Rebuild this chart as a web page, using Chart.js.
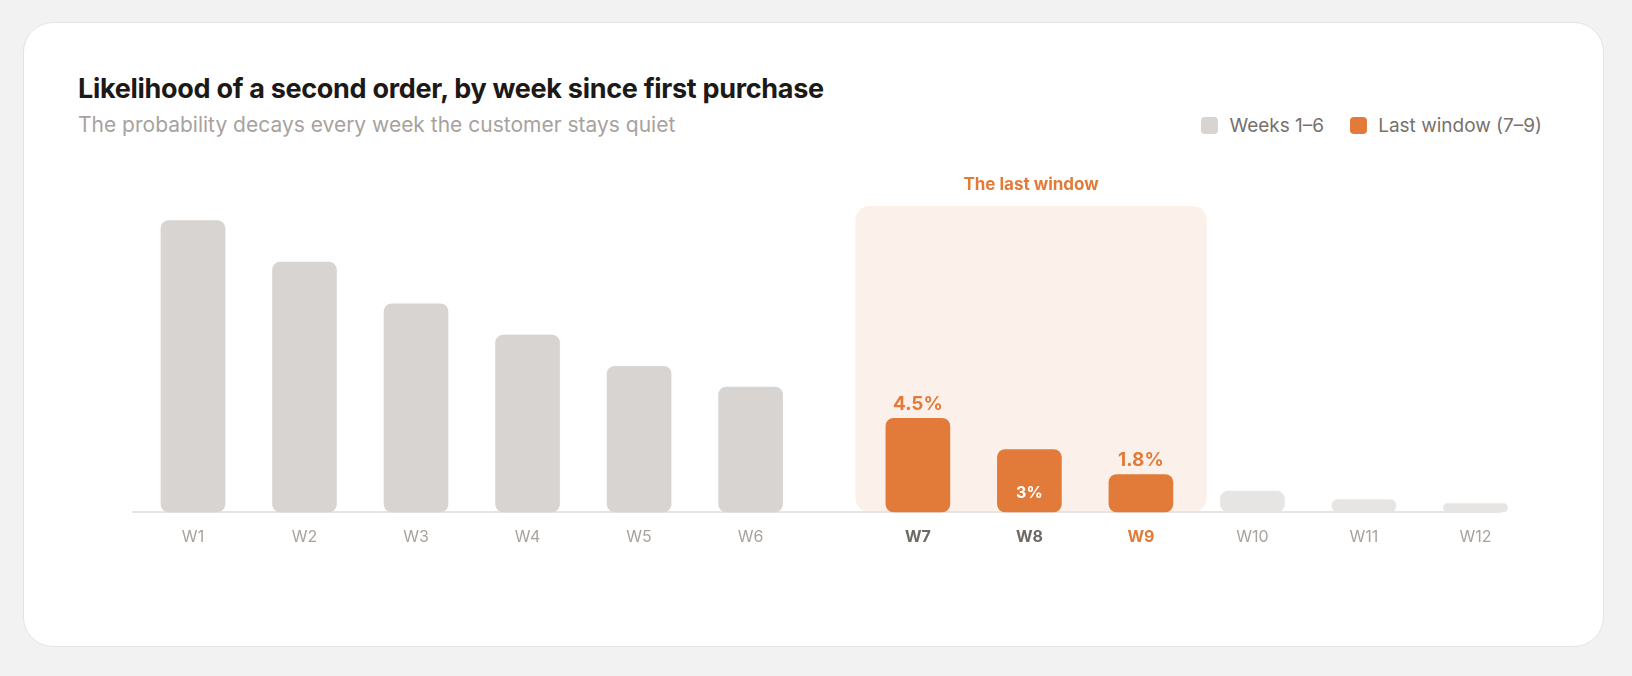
<!DOCTYPE html>
<html>
<head>
<meta charset="utf-8">
<script src="https://cdn.jsdelivr.net/npm/chart.js@4.4.1/dist/chart.umd.min.js"></script>
<style>
  html, body { margin: 0; padding: 0; background: #f2f2f2; width: 1632px; height: 676px; overflow: hidden; }
  body { font-family: Inter, "Noto Sans", sans-serif; }
  .card {
    position: absolute; left: 23px; top: 22px; width: 1579px; height: 623px;
    background: #fff; border: 1px solid #e4e4e4; border-radius: 30px;
  }
  .title {
    position: absolute; left: 54px; top: 52px; margin: 0;
    font-size: 27px; line-height: 27px; font-weight: 700; color: #1c1917; letter-spacing: -0.3px;
  }
  .subtitle {
    position: absolute; left: 54px; top: 91px; margin: 0;
    font-size: 21px; line-height: 21px; font-weight: 400; color: #a8a29e;
  }
  .legend {
    position: absolute; right: 61px; top: 93px; display: flex; align-items: center; gap: 26px;
    font-size: 19px; line-height: 19px; color: #78716c;
  }
  .legend span.item { display: flex; align-items: center; gap: 11px; }
  .legend i { display: inline-block; width: 17px; height: 17px; border-radius: 4px; }
  .chart-box { position: absolute; left: 0; top: 139px; width: 1579px; height: 440px; }
</style>
</head>
<body>
<div class="card">
  <h1 class="title">Likelihood of a second order, by week since first purchase</h1>
  <p class="subtitle">The probability decays every week the customer stays quiet</p>
  <div class="legend" id="legend"></div>
  <div class="chart-box"><canvas id="chart"></canvas></div>
</div>
<script>
// data
const weeks = ["W1", "W2", "W3", "W4", "W5", "W6", "W7", "W8", "W9", "W10", "W11", "W12"];
const likelihood = [14, 12, 10, 8.5, 7, 6, 4.5, 3, 1.8, 1, 0.6, 0.4];
const seriesNames = ["Weeks 1–6", "Last window (7–9)"];
const windowWeeks = ["W7", "W8", "W9"];
const lateWeeks = ["W10", "W11", "W12"];
const windowTitle = "The last window";

const GRAY = "#d7d4d1";
const LIGHT = "#e7e5e3";
const ORANGE = "#e27b3a";
const TINT = "#fbf1ea";
const FONT = "Inter, 'Noto Sans', sans-serif";

// half a slot of extra space before the last window
const xPos = weeks.map((w, i) => (i >= 6 ? i + 1.5 : i + 1));
const pts = (list) =>
  weeks.map((w, i) => ({ w, x: xPos[i], y: likelihood[i] })).filter((p) => list(p.w));

const isWindow = (w) => windowWeeks.includes(w);
const isLate = (w) => lateWeeks.includes(w);

const legendEl = document.getElementById("legend");
[[seriesNames[0], GRAY], [seriesNames[1], ORANGE]].forEach(([name, color]) => {
  const s = document.createElement("span");
  s.className = "item";
  s.innerHTML = `<i style="background:${color}"></i>${name}`;
  legendEl.appendChild(s);
});

const barStyle = {
  barThickness: 64,
  borderRadius: 8,
  borderSkipped: false,
  grouped: false,
  clip: false,
};

const windowPlugin = {
  id: "lastWindow",
  beforeDraw(chart) {
    const { ctx, chartArea, scales } = chart;
    const first = xPos[weeks.indexOf(windowWeeks[0])];
    const last = xPos[weeks.indexOf(windowWeeks[windowWeeks.length - 1])];
    const x1 = scales.x.getPixelForValue(first - 0.56);
    const x2 = scales.x.getPixelForValue(last + 0.59);
    const top = chartArea.top;
    const bottom = chartArea.bottom;
    ctx.save();
    ctx.fillStyle = TINT;
    ctx.beginPath();
    ctx.roundRect(x1, top, x2 - x1, bottom - top, 14);
    ctx.fill();
    ctx.fillStyle = ORANGE;
    ctx.font = `700 17px ${FONT}`;
    ctx.textAlign = "center";
    ctx.textBaseline = "middle";
    ctx.fillText(windowTitle, (x1 + x2) / 2, top - 21);
    ctx.restore();
  },
  afterDatasetsDraw(chart) {
    const { ctx } = chart;
    const meta = chart.getDatasetMeta(1);
    const data = chart.data.datasets[1].data;
    ctx.save();
    ctx.textAlign = "center";
    meta.data.forEach((bar, i) => {
      const text = `${data[i].y}%`;
      if (data[i].w === "W8") {
        ctx.fillStyle = "#ffffff";
        ctx.font = `700 16px ${FONT}`;
        ctx.textBaseline = "middle";
        ctx.fillText(text, bar.x, bar.base - 19);
      } else {
        ctx.fillStyle = ORANGE;
        ctx.font = `700 19px ${FONT}`;
        ctx.textBaseline = "bottom";
        ctx.fillText(text, bar.x, bar.y - 5);
      }
    });
    ctx.restore();
  },
};

new Chart(document.getElementById("chart"), {
  type: "bar",
  data: {
    datasets: [
      { label: seriesNames[0], data: pts((w) => !isWindow(w) && !isLate(w)), backgroundColor: GRAY, ...barStyle },
      { label: seriesNames[1], data: pts(isWindow), backgroundColor: ORANGE, ...barStyle },
      { label: "Later weeks", data: pts(isLate), backgroundColor: LIGHT, ...barStyle },
    ],
  },
  options: {
    responsive: true,
    maintainAspectRatio: false,
    animation: false,
    layout: { padding: { left: 109, right: 103, top: 44, bottom: 30 } },
    plugins: { legend: { display: false }, tooltip: { enabled: false } },
    scales: {
      x: {
        type: "linear",
        offset: false,
        min: 0.462,
        max: 12.72,
        afterBuildTicks: (scale) => {
          scale.ticks = xPos.map((v) => ({ value: v }));
        },
        afterFit: (scale) => {
          scale.height = 60;
        },
        grid: { display: false, drawTicks: false },
        border: { display: true, color: "#e7e5e4", width: 2 },
        ticks: {
          autoSkip: false,
          maxRotation: 0,
          padding: 16,
          callback: (value, index) => weeks[index],
          color: (c) => {
            const w = weeks[c.index];
            if (w === "W9") return ORANGE;
            return isWindow(w) ? "#6f6964" : "#a8a29e";
          },
          font: (c) => ({ family: FONT, size: 16, weight: isWindow(weeks[c.index]) ? "700" : "400" }),
        },
      },
      y: { display: false, min: 0, max: 14.7 },
    },
  },
  plugins: [windowPlugin],
});
</script>
</body>
</html>
